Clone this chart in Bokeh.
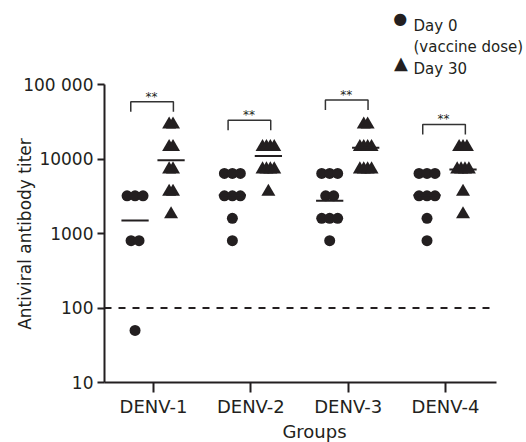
import math
from collections import Counter

from bokeh.plotting import figure
from bokeh.models import FixedTicker, Label, Range1d
from bokeh.core.properties import value
from bokeh.embed import file_html
from bokeh.resources import INLINE

# ---------------- data ----------------
groups = ["DENV-1", "DENV-2", "DENV-3", "DENV-4"]
group_ticks = [1, 2, 3, 4]

y_ticks = [10, 100, 1000, 10000, 100000]
y_tick_labels = ["10", "100", "1000", "10000", "100 000"]

# Day 0 (vaccine dose) titers
day0_denv1 = [3200, 3200, 3200, 800, 800, 50]
day0_denv2 = [6400, 6400, 6400, 3200, 3200, 3200, 1600, 800]
day0_denv3 = [6400, 6400, 6400, 3200, 3200, 1600, 1600, 1600, 800]
day0_denv4 = [6400, 6400, 6400, 3200, 3200, 3200, 1600, 800]

# Day 30 titers
day30_denv1 = [25600, 25600, 12800, 12800, 6400, 6400, 3200, 3200, 1600]
day30_denv2 = [12800, 12800, 12800, 12800, 6400, 6400, 6400, 6400, 3200]
day30_denv3 = [25600, 25600, 12800, 12800, 12800, 12800, 6400, 6400, 6400, 6400]
day30_denv4 = [12800, 12800, 12800, 6400, 6400, 6400, 6400, 3200, 1600]

# group mean lines
day0_mean = [1500, 3250, 2750, 3250]
day30_mean = [9600, 11000, 14200, 7250]

# significance brackets (height of bracket top) and label
bracket_top = [58500, 33200, 61700, 29100]
bracket_text = ["**", "**", "**", "**"]

cutoff = 100
y_min, y_max = 10, 100000
x_min, x_max = 0.496, 4.524

y_title = "Antiviral antibody titer"
x_title = "Groups"
legend_labels = ["Day 0", "(vaccine dose)", "Day 30"]

# ---------------- style / layout ----------------
INK = "#231f20"
FONT = "DejaVu Sans"
AXIS_H = 298            # pixels from 10 to 100 000
AXIS_W = 392            # pixels of the x axis
TOP_PAD = 80            # frame space above 100 000 (legend area)
RIGHT_PAD = 28          # frame space right of the x axis (legend area)
B_LEFT, B_RIGHT, B_TOP, B_BOTTOM = 104, 0, 4, 58
FRAME_W, FRAME_H = AXIS_W + RIGHT_PAD, AXIS_H + TOP_PAD
PX_PER_DECADE = AXIS_H / math.log10(y_max / y_min)
PX_PER_UNIT = AXIS_W / (x_max - x_min)
Y_TITLE_PX = 17

X0_OFF, X30_OFF = -0.19, 0.18
CIRCLE_STEP, TRI_STEP = 0.082, 0.04
CIRCLE_SIZE, TRI_SIZE = 11, 14
MEAN_HALF = 0.14


def px_factor(px):
    """multiplicative factor on the log axis equal to a shift of px pixels"""
    return 10 ** (px / PX_PER_DECADE)


def spread(vals, step):
    counts = Counter(vals)
    seen = Counter()
    offs = []
    for v in vals:
        n = counts[v]
        i = seen[v]
        seen[v] += 1
        offs.append((i - (n - 1) / 2.0) * step)
    return offs


p = figure(frame_width=FRAME_W, frame_height=FRAME_H,
           x_range=Range1d(x_min, x_max + RIGHT_PAD / PX_PER_UNIT),
           y_range=Range1d(y_min, y_max * px_factor(TOP_PAD)),
           y_axis_type="log", output_backend="svg", toolbar_location=None,
           min_border_left=B_LEFT, min_border_right=B_RIGHT,
           min_border_top=B_TOP, min_border_bottom=B_BOTTOM)
p.outline_line_color = None
p.grid.visible = False

# cut-off line (spans the x axis only)
p.segment(x0=[x_min], x1=[x_max], y0=[cutoff], y1=[cutoff],
          line_color=INK, line_width=2, line_dash="7 7")

day0_sets = [day0_denv1, day0_denv2, day0_denv3, day0_denv4]
day30_sets = [day30_denv1, day30_denv2, day30_denv3, day30_denv4]

tri_h = TRI_SIZE * math.sqrt(3) / 2.0
tri_lift = px_factor(tri_h / 3.0)   # base of each triangle sits on its value

for g, v0, v30 in zip(group_ticks, day0_sets, day30_sets):
    xs0 = [g + X0_OFF + o for o in spread(v0, CIRCLE_STEP)]
    p.scatter(xs0, v0, marker="circle", size=CIRCLE_SIZE,
              fill_color=INK, line_color=None)
    xs30 = [g + X30_OFF + o for o in spread(v30, TRI_STEP)]
    p.scatter(xs30, [v * tri_lift for v in v30], marker="triangle",
              size=TRI_SIZE, fill_color=INK, line_color=None)

# mean lines
p.segment(x0=[g + X0_OFF - MEAN_HALF for g in group_ticks],
          x1=[g + X0_OFF + MEAN_HALF for g in group_ticks],
          y0=day0_mean, y1=day0_mean, line_color=INK, line_width=2)
p.segment(x0=[g + X30_OFF - MEAN_HALF for g in group_ticks],
          x1=[g + X30_OFF + MEAN_HALF for g in group_ticks],
          y0=day30_mean, y1=day30_mean, line_color=INK, line_width=2)

# brackets
legf = px_factor(-10)
bx, by = [], []
for g, t in zip(group_ticks, bracket_top):
    bx.append([g - 0.234, g - 0.234, g + 0.204, g + 0.204])
    by.append([t * legf, t, t, t * legf])
p.multi_line(bx, by, line_color="#333333", line_width=1.5)
p.text(x=[g - 0.02 for g in group_ticks],
       y=[t * px_factor(5) for t in bracket_top],
       text=bracket_text, text_font=value(FONT), text_font_size="12px",
       text_align="center", text_baseline="alphabetic", text_color=INK)

# axes
yax = p.yaxis[0]
yax.ticker = FixedTicker(ticks=y_ticks)
yax.major_label_overrides = dict(zip(y_ticks, y_tick_labels))
yax.bounds = (y_min, y_max)
xax = p.xaxis[0]
xax.ticker = FixedTicker(ticks=group_ticks)
xax.major_label_overrides = dict(zip(group_ticks, groups))
xax.bounds = (x_min, x_max)

for ax in (xax, yax):
    ax.axis_line_width = 2
    ax.axis_line_color = INK
    ax.major_tick_line_width = 2
    ax.major_tick_line_color = INK
    ax.major_tick_in = 0
    ax.minor_tick_line_color = None
    ax.major_label_text_font = FONT
    ax.major_label_text_color = INK
    ax.axis_label_text_font = FONT
    ax.axis_label_text_font_style = "normal"
    ax.axis_label_text_color = INK

yax.major_tick_out = 7
yax.major_label_text_font_size = "17px"
yax.major_label_standoff = 4
# the frame is taller than the axis (legend strip on top); pad the title's
# upper end with no-break spaces so that it stays centred on the axis itself
nbsp_w = 0.318 * Y_TITLE_PX
yax.axis_label = y_title + "\u00a0" * int(round(TOP_PAD / nbsp_w))
yax.axis_label_text_font_size = f"{Y_TITLE_PX}px"
yax.axis_label_standoff = -15

xax.major_tick_out = 10
xax.major_label_text_font_size = "18px"
xax.major_label_standoff = 3
xax.axis_label = x_title
xax.axis_label_text_font_size = "18px"
xax.axis_label_standoff = 1

# legend (inside the frame's top strip; screen units from the frame's bottom-left)
FRAME_BOTTOM = B_TOP + FRAME_H


def scr(px, py):
    return px - B_LEFT, FRAME_BOTTOM - py


legend_symbols = [("\u25CF", 399.7, 18.0, "16px"), ("\u25B2", 400.3, 61.5, "18px")]
for sym, sx, sy, fs in legend_symbols:
    x, y = scr(sx, sy)
    p.add_layout(Label(x=x, y=y, x_units="screen", y_units="screen", text=sym,
                       text_font=FONT, text_font_size=fs, text_color=INK,
                       text_align="center", text_baseline="middle"))
for txt, base in zip(legend_labels, [25.0, 46.5, 68.3]):
    x, y = scr(413, base)
    p.add_layout(Label(x=x, y=y, x_units="screen", y_units="screen", text=txt,
                       text_font=FONT, text_font_size="15px", text_color=INK,
                       text_align="left", text_baseline="alphabetic"))

open("out.html", "w").write(file_html(p, INLINE))
